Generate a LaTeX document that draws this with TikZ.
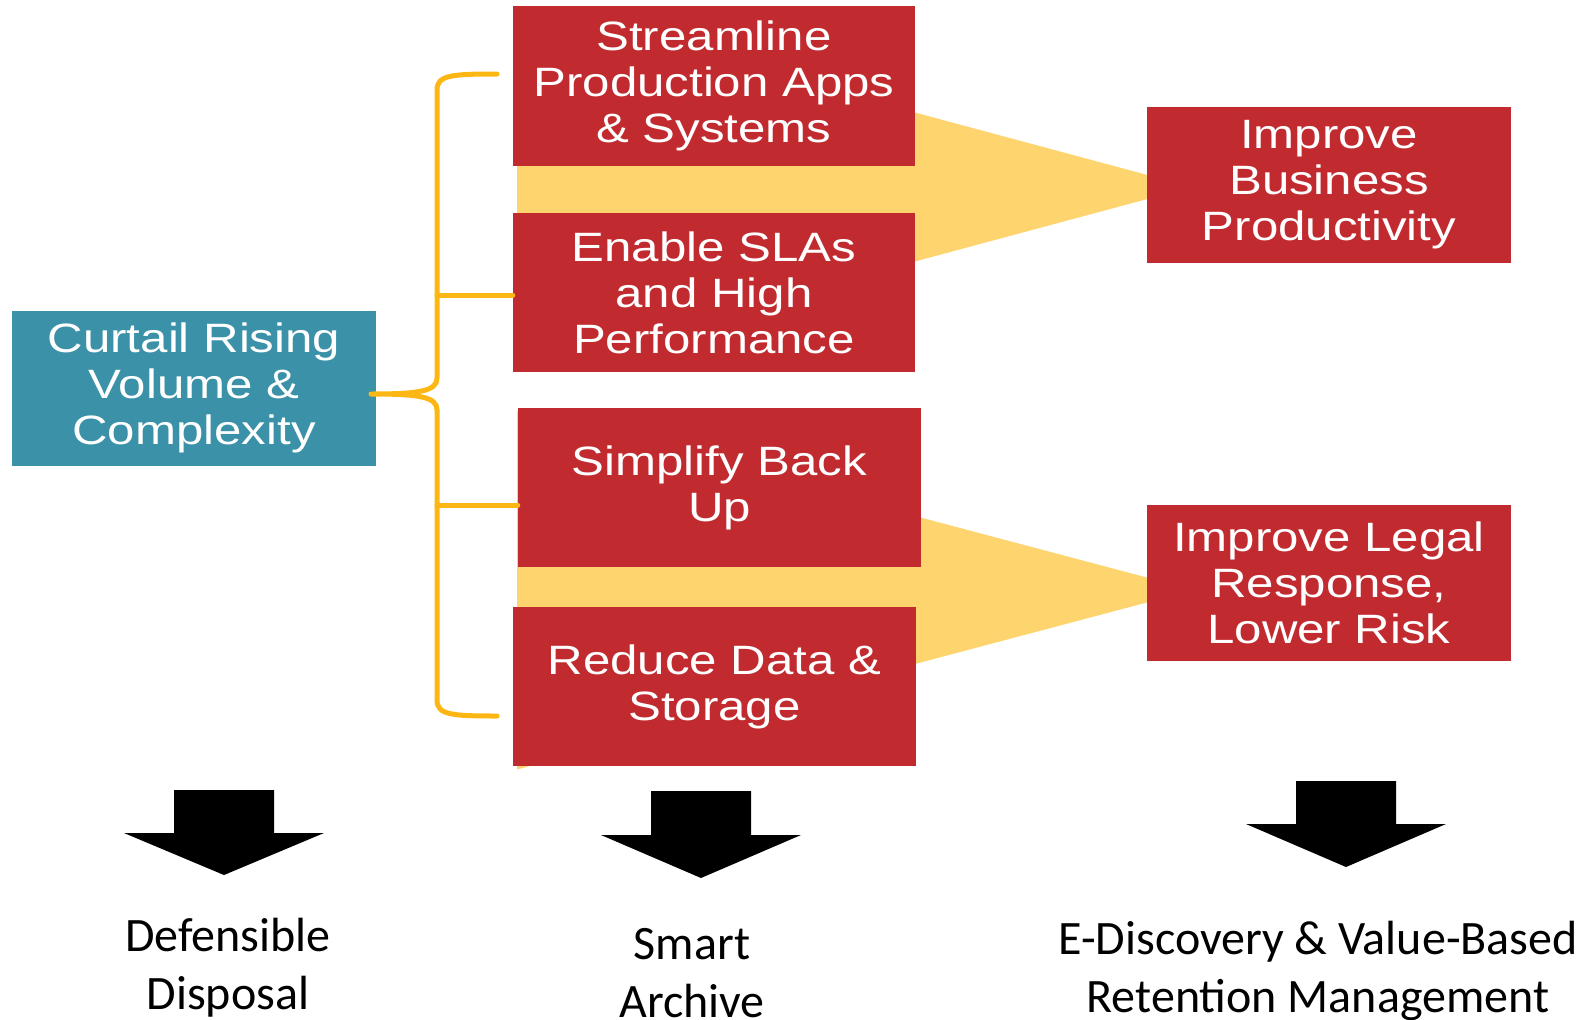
\documentclass[tikz,border=0pt]{standalone}
\usepackage{fontspec}
\newfontfamily\boxfont[FakeStretch=1.2]{Liberation Sans}
\newfontfamily\capfont{Carlito}
\definecolor{boxred}{HTML}{C12A2E}
\definecolor{boxteal}{HTML}{3A91A8}
\definecolor{funnelgold}{HTML}{FDD46E}
\definecolor{bracegold}{HTML}{FDB714}
\begin{document}
\begin{tikzpicture}[x=1pt, y=-1pt,
  redbox/.style={fill=boxred, text=white, inner sep=0pt, align=center,
    minimum width=402pt, minimum height=159pt,
    font=\boxfont\fontsize{41}{46}\selectfont},
  goalbox/.style={redbox, minimum width=364pt, minimum height=156pt},
  tealbox/.style={redbox, fill=boxteal, minimum width=364pt, minimum height=155pt},
  funnel/.style={fill=funnelgold},
  brace/.style={draw=bracegold, line width=5pt, line cap=round, line join=round},
  caption/.style={inner sep=0pt, align=center, font=\capfont\fontsize{48}{58}\selectfont}]
\useasboundingbox (0,0) rectangle (1593,1020);
% yellow funnels behind the boxes
\fill[funnel] (517,5.5) -- (1192,187) -- (517,368.5) -- cycle;
\fill[funnel] (517,410.5) -- (1194,590) -- (517,769.5) -- cycle;
% boxes
\node[redbox, minimum height=160pt] (streamline) at (714,86) {Streamline\\Production Apps\\\& Systems};
\node[redbox] (enable) at (714,292.5) {Enable SLAs\\and High\\Performance};
\node[redbox, minimum width=403pt] (simplify) at (719.5,487.5) {Simplify Back\\Up};
\node[redbox, minimum width=403pt] (reduce) at (714.5,686.5) {Reduce Data \&\\Storage};
\node[goalbox] (productivity) at (1329,185) {Improve\\Business\\Productivity};
\node[goalbox] (legal) at (1329,582.5) {Improve Legal\\Response,\\Lower Risk};
\node[tealbox] (curtail) at (194,388) {Curtail Rising\\Volume \&\\Complexity};
% brace
\coordinate (bracetip) at (371,394);
\coordinate (tickA) at (437,295);
\coordinate (tickB) at (437,505);
\draw[brace] (497,74) .. controls (452,74) and (437,75) .. (437,90) -- (437,378)
  .. controls (437,391) and (420,394) .. (bracetip)
  .. controls (420,394) and (437,397) .. (437,410) -- (437,700)
  .. controls (437,715) and (452,716) .. (497,716);
\draw[brace] (tickA) -- (tickA -| enable.west);
\draw[brace] (tickB) -- (tickB -| simplify.west);
% block arrows
\fill (224,875) -- ++(-100,-42) -- ++(50,0) -- ++(0,-43) -- ++(100,0) -- ++(0,43) -- ++(50,0) -- cycle;
\fill (701,878) -- ++(-100,-43) -- ++(50,0) -- ++(0,-44) -- ++(100,0) -- ++(0,44) -- ++(50,0) -- cycle;
\fill (1346,867) -- ++(-100,-43) -- ++(50,0) -- ++(0,-43) -- ++(100,0) -- ++(0,43) -- ++(50,0) -- cycle;
% captions
\node[caption] (disposal) at (228,968) {Defensible\\Disposal};
\node[caption] (archive) at (692,973) {Smart\\Archive};
\node[caption] (retention) at (1318,971) {E-Discovery \& Value-Based\\Retention Management};
\end{tikzpicture}
\end{document}
